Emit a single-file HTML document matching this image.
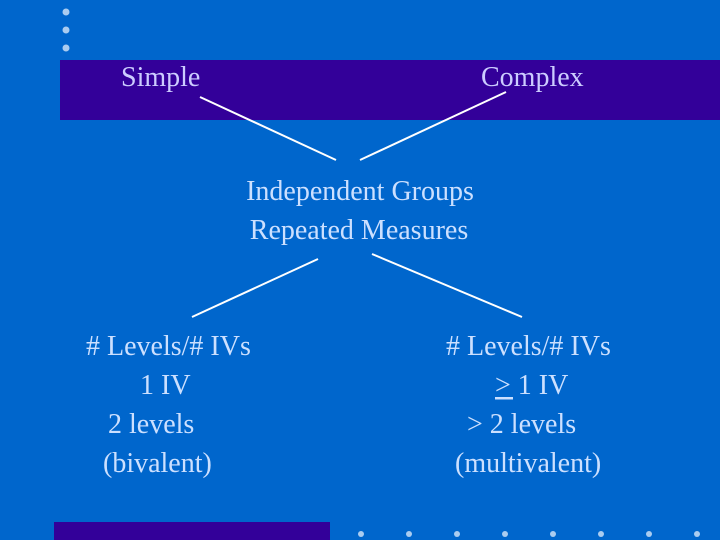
<!DOCTYPE html>
<html><head><meta charset="utf-8"><style>
html,body{margin:0;padding:0;background:#0066CC;}
svg{display:block}
text{font-family:"Liberation Serif",serif;font-size:28px;fill:#CCE0FF}
</style></head><body>
<svg width="720" height="540" viewBox="0 0 720 540" xmlns="http://www.w3.org/2000/svg">
<rect width="720" height="540" fill="#0066CC"/>
<rect x="60" y="60" width="660" height="60" fill="#330099"/>
<rect x="54" y="522" width="276" height="18" fill="#330099"/>
<g fill="#AACCF0">
<circle cx="66" cy="12" r="3.5"/><circle cx="66" cy="30" r="3.5"/><circle cx="66" cy="48" r="3.5"/>
<circle cx="361" cy="534" r="3"/><circle cx="409" cy="534" r="3"/><circle cx="457" cy="534" r="3"/><circle cx="505" cy="534" r="3"/><circle cx="553" cy="534" r="3"/><circle cx="601" cy="534" r="3"/><circle cx="649" cy="534" r="3"/><circle cx="697" cy="534" r="3"/>
</g>
<g stroke="#FFFFFF" stroke-width="2">
<line x1="200" y1="97" x2="336" y2="160"/>
<line x1="360" y1="160" x2="506" y2="92"/>
<line x1="192" y1="317" x2="318" y2="259"/>
<line x1="372" y1="254" x2="522" y2="317"/>
</g>
<text x="121" y="86" style="fill:#CCCCFF">Simple</text>
<text x="481" y="86" style="fill:#CCCCFF">Complex</text>
<text x="360" y="200" text-anchor="middle">Independent Groups</text>
<text x="359" y="239" text-anchor="middle">Repeated Measures</text>
<text x="86" y="355">#&#160;Levels/#&#160;IVs</text>
<text x="140" y="394">1 IV</text>
<text x="108" y="433">2 levels</text>
<text x="103" y="472">(bivalent)</text>
<text x="446" y="355">#&#160;Levels/#&#160;IVs</text>
<text x="495" y="394">&gt; 1 IV</text>
<rect x="495" y="397" width="18" height="2.5" fill="#CCE0FF"/>
<text x="467" y="433">&gt; 2 levels</text>
<text x="455" y="472">(multivalent)</text>
</svg>
</body></html>
